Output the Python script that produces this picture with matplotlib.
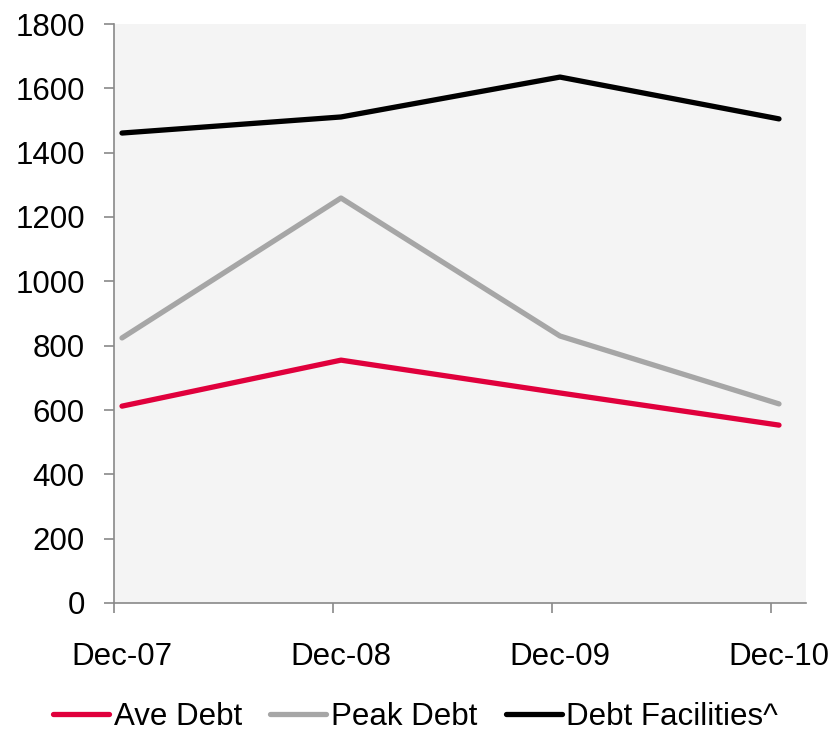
import numpy as np
import matplotlib.pyplot as plt

plt.rcParams['font.family'] = ['Liberation Sans', 'DejaVu Sans']

periods = ["Dec-07", "Dec-08", "Dec-09", "Dec-10"]
ave_debt = [612, 755, 653, 553]
peak_debt = [824, 1259, 830, 619]
debt_facilities = [1461, 1511, 1635, 1505]

W, H = 831, 735
fig = plt.figure(figsize=(W / 100, H / 100), dpi=100)
ax = fig.add_axes([114 / W, (H - 603) / H, 692 / W, 579 / H])
ax.set_facecolor("#F4F4F4")

x = np.arange(len(periods))
lw = 3.8
fs = 22.5
ax.plot(x, ave_debt, color="#E0003C", lw=lw, solid_capstyle="round", label="Ave Debt")
ax.plot(x, peak_debt, color="#A6A6A6", lw=lw, solid_capstyle="round", label="Peak Debt")
ax.plot(x, debt_facilities, color="#000000", lw=lw, solid_capstyle="round",
        label="Debt Facilities^")

off = 8 / 219
ax.set_xlim(-off, (806 - 122) / 219)
ax.set_ylim(0, 1800)
ax.set_yticks(range(0, 1801, 200))

# tick marks sit a little left of the points, labels sit under the points
ax.set_xticks(x - off)
ax.set_xticklabels([])
ax.set_xticks(x, minor=True)
ax.set_xticklabels(periods, minor=True)
ax.tick_params(axis="x", which="major", length=7, width=1.2, color="#898989")
ax.tick_params(axis="x", which="minor", length=0, pad=28, labelsize=fs)
ax.tick_params(axis="y", length=7, width=1.2, color="#898989", pad=14, labelsize=fs)

for s in ["top", "right"]:
    ax.spines[s].set_visible(False)
for s in ["left", "bottom"]:
    ax.spines[s].set_color("#898989")
    ax.spines[s].set_linewidth(1.2)

fig.legend(loc="center", bbox_to_anchor=(0.5, 1 - 717 / H), ncol=3, frameon=False,
           fontsize=fs, handlelength=1.8, handletextpad=0.15, columnspacing=0.9,
           borderpad=0.1)

fig.savefig("out.png", dpi=100)
